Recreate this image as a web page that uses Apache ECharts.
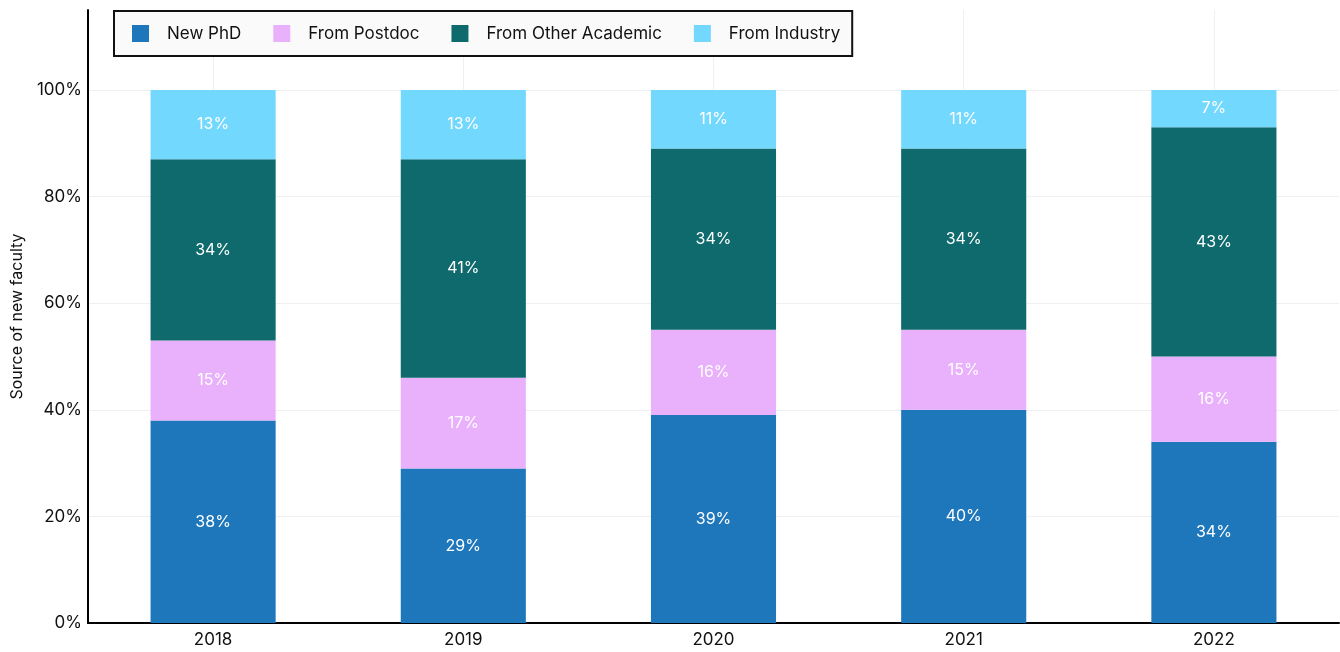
<!DOCTYPE html>
<html>
<head>
<meta charset="utf-8">
<script src="https://cdn.jsdelivr.net/npm/echarts@6/dist/echarts.min.js"></script>
<style>
  html, body { margin: 0; padding: 0; background: #fff; }
  #chart { width: 1340px; height: 652px; }
</style>
</head>
<body>
<div id="chart"></div>
<script>
// 新教职来源 — 100% 堆叠柱状图

const years = ['2018', '2019', '2020', '2021', '2022'];
const newPhd = [38, 29, 39, 40, 34];
const fromPostdoc = [15, 17, 16, 15, 16];
const fromOtherAcademic = [34, 41, 34, 34, 43];
const fromIndustry = [13, 13, 11, 11, 7];

const FONT = 'Inter, "Noto Sans", sans-serif';
const COLORS = {
  phd: '#1f77bb',
  postdoc: '#e9b0fc',
  academic: '#0e6a6c',
  industry: '#73d8fe',
};

function barSeries(name, data, color) {
  return {
    name,
    type: 'bar',
    stack: 'total',
    data,
    barWidth: '50%',
    itemStyle: { color },
    label: {
      show: true,
      position: 'inside',
      formatter: '{c}%',
      color: '#fff',
      fontFamily: FONT,
      fontSize: 16,
    },
  };
}

const chart = echarts.init(document.getElementById('chart'), null, { renderer: 'canvas' });

chart.setOption({
  animation: false,
  backgroundColor: '#fff',
  textStyle: { fontFamily: FONT },
  grid: { left: 88, right: 1, top: 10, bottom: 29, containLabel: false },
  legend: {
    left: 114,
    top: 11,
    padding: [14, 12, 14, 18],
    itemWidth: 17,
    itemHeight: 17,
    itemGap: 32,
    icon: 'rect',
    backgroundColor: '#fafafa',
    borderColor: '#111',
    borderWidth: 2,
    borderRadius: 0,
    textStyle: { color: '#111', fontSize: 17, fontFamily: FONT, padding: [0, 0, 0, 13] },
    data: ['New PhD', 'From Postdoc', 'From Other Academic', 'From Industry'],
  },
  xAxis: {
    type: 'category',
    data: years,
    axisLine: { lineStyle: { color: '#000', width: 2 } },
    axisTick: { show: false },
    axisLabel: { color: '#111', fontSize: 17, margin: 8, fontFamily: FONT },
    splitLine: { show: true, alignWithLabel: true, lineStyle: { color: '#f0f0f0' } },
  },
  yAxis: {
    type: 'value',
    min: 0,
    max: 115,
    interval: 20,
    name: 'Source of new faculty',
    nameLocation: 'middle',
    nameGap: 63,
    nameTextStyle: { color: '#111', fontSize: 16, fontFamily: FONT },
    axisLine: { show: true, lineStyle: { color: '#000', width: 2 } },
    axisTick: { show: false },
    axisLabel: {
      color: '#111',
      fontSize: 17,
      margin: 6,
      fontFamily: FONT,
      formatter: (v) => (v > 100 ? '' : v + '%'),
    },
    splitLine: {
      show: true,
      lineStyle: {
        color: ['#f0f0f0', '#f0f0f0', '#f0f0f0', '#f0f0f0', '#f0f0f0', '#f0f0f0', 'rgba(0,0,0,0)'],
      },
    },
  },
  series: [
    barSeries('New PhD', newPhd, COLORS.phd),
    barSeries('From Postdoc', fromPostdoc, COLORS.postdoc),
    barSeries('From Other Academic', fromOtherAcademic, COLORS.academic),
    barSeries('From Industry', fromIndustry, COLORS.industry),
  ],
});

window.addEventListener('resize', () => chart.resize());
</script>
</body>
</html>
